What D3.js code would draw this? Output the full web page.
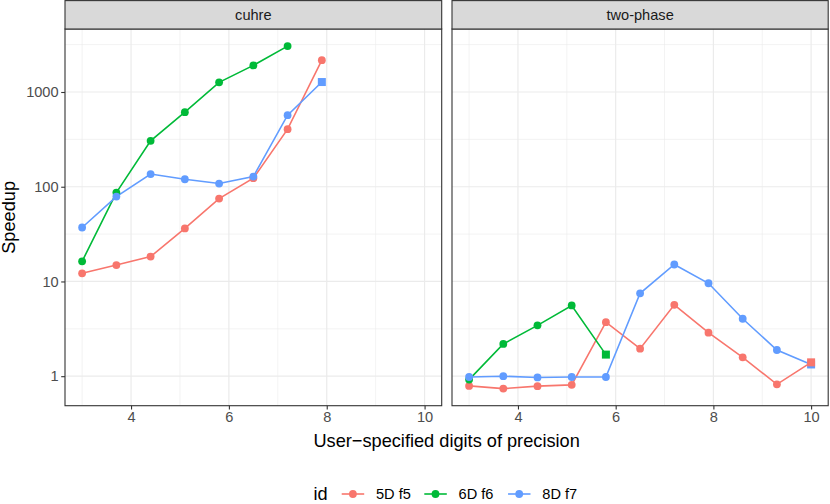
<!DOCTYPE html>
<html><head><meta charset="utf-8">
<script src="https://cdn.jsdelivr.net/npm/d3@7"></script>
<style>body{margin:0;background:#fff}svg{display:block;font-family:"Liberation Sans",Arial,sans-serif}</style>
</head><body>
<script>
const panels = ["cuhre", "two-phase"];
const ids = ["5D f5", "6D f6", "8D f7"];
const colors = ["#F8766D", "#00BA38", "#619CFF"];
const xTicks = [4, 6, 8, 10];
const xMinor = [3, 5, 7, 9];
const yTicks = [1, 10, 100, 1000];
const yTickLabels = ["1", "10", "100", "1000"];
// cuhre panel
const cuhreX_5D = [3, 3.7, 4.4, 5.1, 5.8, 6.5, 7.2, 7.9];
const cuhreY_5D = [12.2, 14.9, 18.3, 36.3, 75, 123, 405, 2170];
const cuhreS_5D = ["c", "c", "c", "c", "c", "c", "c", "c"];
const cuhreX_6D = [3, 3.7, 4.4, 5.1, 5.8, 6.5, 7.2];
const cuhreY_6D = [16.3, 86.7, 305, 612, 1265, 1910, 3050];
const cuhreS_6D = ["c", "c", "c", "c", "c", "c", "c"];
const cuhreX_8D = [3, 3.7, 4.4, 5.1, 5.8, 6.5, 7.2, 7.9];
const cuhreY_8D = [37.1, 78.7, 136, 120, 108, 128, 569, 1274];
const cuhreS_8D = ["c", "c", "c", "c", "c", "c", "c", "s"];
// two-phase panel
const twoX_5D = [3, 3.7, 4.4, 5.1, 5.8, 6.5, 7.2, 7.9, 8.6, 9.3, 10];
const twoY_5D = [0.79, 0.74, 0.785, 0.81, 3.72, 1.95, 5.67, 2.88, 1.58, 0.82, 1.40];
const twoS_5D = ["c", "c", "c", "c", "c", "c", "c", "c", "c", "c", "s"];
const twoX_6D = [3, 3.7, 4.4, 5.1, 5.8];
const twoY_6D = [0.92, 2.19, 3.44, 5.58, 1.69];
const twoS_6D = ["c", "c", "c", "c", "s"];
const twoX_8D = [3, 3.7, 4.4, 5.1, 5.8, 6.5, 7.2, 7.9, 8.6, 9.3, 10];
const twoY_8D = [0.98, 1.0, 0.97, 0.98, 0.98, 7.5, 15.1, 9.57, 4.04, 1.89, 1.33];
const twoS_8D = ["c", "c", "c", "c", "c", "c", "c", "c", "c", "c", "s"];

const series = [
  {panel: 0, id: 0, x: cuhreX_5D, y: cuhreY_5D, s: cuhreS_5D},
  {panel: 0, id: 1, x: cuhreX_6D, y: cuhreY_6D, s: cuhreS_6D},
  {panel: 0, id: 2, x: cuhreX_8D, y: cuhreY_8D, s: cuhreS_8D},
  {panel: 1, id: 0, x: twoX_5D, y: twoY_5D, s: twoS_5D},
  {panel: 1, id: 1, x: twoX_6D, y: twoY_6D, s: twoS_6D},
  {panel: 1, id: 2, x: twoX_8D, y: twoY_8D, s: twoS_8D}
];

const W = 830, H = 504;
const FS_TICK = 14.6, FS_TITLE = 18.2;
const svg = d3.select("body").append("svg").attr("width", W).attr("height", H);

const allX = series.flatMap(d => d.x), allY = series.flatMap(d => d.y.map(Math.log10));
const xmin = d3.min(allX), xmax = d3.max(allX), xr = xmax - xmin;
const lmin = d3.min(allY), lmax = d3.max(allY), lr = lmax - lmin;
const panelTop = 29, panelBottom = 405.7;
const panelX = [[65, 441.7], [452, 828.2]];
const y = d3.scaleLog().domain([10 ** (lmin - 0.05 * lr), 10 ** (lmax + 0.05 * lr)]).range([panelBottom, panelTop]);
const yMinor = [10 ** -0.5, 10 ** 0.5, 10 ** 1.5, 10 ** 2.5, 10 ** 3.5];
const R = 3.9, SQ = 8;

panels.forEach((name, pi) => {
  const [x0, x1] = panelX[pi];
  const x = d3.scaleLinear().domain([xmin - 0.05 * xr, xmax + 0.05 * xr]).range([x0, x1]);
  const g = svg.append("g");
  g.append("rect").attr("x", x0).attr("y", panelTop).attr("width", x1 - x0).attr("height", panelBottom - panelTop).attr("fill", "#fff");
  // minor grid
  g.selectAll(".ym").data(yMinor.filter(v => v > y.domain()[0] && v < y.domain()[1])).join("line")
    .attr("x1", x0).attr("x2", x1).attr("y1", d => y(d)).attr("y2", d => y(d)).attr("stroke", "#EBEBEB").attr("stroke-width", 0.6);
  g.selectAll(".xm").data(xMinor).join("line")
    .attr("y1", panelTop).attr("y2", panelBottom).attr("x1", d => x(d)).attr("x2", d => x(d)).attr("stroke", "#EBEBEB").attr("stroke-width", 0.6);
  // major grid
  g.selectAll(".yM").data(yTicks).join("line")
    .attr("x1", x0).attr("x2", x1).attr("y1", d => y(d)).attr("y2", d => y(d)).attr("stroke", "#EBEBEB").attr("stroke-width", 1.2);
  g.selectAll(".xM").data(xTicks).join("line")
    .attr("y1", panelTop).attr("y2", panelBottom).attr("x1", d => x(d)).attr("x2", d => x(d)).attr("stroke", "#EBEBEB").attr("stroke-width", 1.2);

  // lines
  const line = d3.line().x(d => x(d[0])).y(d => y(d[1]));
  const ser = series.filter(s => s.panel === pi);
  ser.forEach(s => {
    g.append("path").datum(s.x.map((v, i) => [v, s.y[i]])).attr("d", line)
      .attr("fill", "none").attr("stroke", colors[s.id]).attr("stroke-width", 1.6);
  });
  const pts = [];
  ser.forEach(s => s.x.forEach((v, i) => pts.push({x: v, y: s.y[i], s: s.s[i], id: s.id})));
  const circ = pts.filter(p => p.s === "c"), sq = pts.filter(p => p.s === "s").sort((a, b) => b.id - a.id);
  g.selectAll(".pt").data(circ).join("circle").attr("cx", d => x(d.x)).attr("cy", d => y(d.y)).attr("r", R).attr("fill", d => colors[d.id]);
  g.selectAll(".sq").data(sq).join("rect").attr("x", d => x(d.x) - SQ / 2).attr("y", d => y(d.y) - SQ / 2)
    .attr("width", SQ).attr("height", SQ).attr("fill", d => colors[d.id]);

  // border
  g.append("rect").attr("x", x0).attr("y", panelTop).attr("width", x1 - x0).attr("height", panelBottom - panelTop)
    .attr("fill", "none").attr("stroke", "#333333").attr("stroke-width", 1.1);
  // strip
  g.append("rect").attr("x", x0).attr("y", 0.6).attr("width", x1 - x0).attr("height", panelTop - 0.6)
    .attr("fill", "#D9D9D9").attr("stroke", "#333333").attr("stroke-width", 1.1);
  g.append("text").attr("x", (x0 + x1) / 2).attr("y", 20).attr("text-anchor", "middle")
    .attr("font-size", FS_TICK).attr("fill", "#1A1A1A").text(name);

  // x axis
  const xa = g.append("g").attr("transform", `translate(0,${panelBottom})`)
    .call(d3.axisBottom(x).tickValues(xTicks).tickSize(3.8).tickPadding(2.6).tickFormat(d3.format("d")));
  xa.select(".domain").remove();
  xa.selectAll("line").attr("stroke", "#333333").attr("stroke-width", 1.1);
  xa.selectAll("text").attr("font-size", FS_TICK).attr("fill", "#4D4D4D").attr("font-family", "Liberation Sans, Arial, sans-serif");

  if (pi === 0) {
    const ya = g.append("g").attr("transform", `translate(${x0},0)`)
      .call(d3.axisLeft(y).tickValues(yTicks).tickSize(3.8).tickPadding(2.6).tickFormat((d, i) => yTickLabels[i]));
    ya.select(".domain").remove();
    ya.selectAll("line").attr("stroke", "#333333").attr("stroke-width", 1.1);
    ya.selectAll("text").attr("font-size", FS_TICK).attr("fill", "#4D4D4D").attr("font-family", "Liberation Sans, Arial, sans-serif");
  }
});

// axis titles
svg.append("text").attr("x", (panelX[0][0] + panelX[1][1]) / 2).attr("y", 446.5).attr("text-anchor", "middle")
  .attr("font-size", FS_TITLE).attr("fill", "#000").text("User\u2212specified digits of precision");
svg.append("text").attr("transform", `translate(14.6,${(panelTop + panelBottom) / 2}) rotate(-90)`).attr("text-anchor", "middle")
  .attr("font-size", FS_TITLE).attr("fill", "#000").text("Speedup");

// legend
const lg = svg.append("g");
lg.append("text").attr("x", 313.5).attr("y", 500).attr("font-size", FS_TITLE).text("id");
const keyX = [341.7, 424.3, 508];
ids.forEach((id, i) => {
  lg.append("line").attr("x1", keyX[i]).attr("x2", keyX[i] + 22.5).attr("y1", 494).attr("y2", 494)
    .attr("stroke", colors[i]).attr("stroke-width", 1.6);
  lg.append("circle").attr("cx", keyX[i] + 11.2).attr("cy", 494).attr("r", R).attr("fill", colors[i]);
  lg.append("text").attr("x", keyX[i] + 34.3).attr("y", 499.2).attr("font-size", FS_TICK).attr("fill", "#000").text(id);
});
</script>
</body></html>
